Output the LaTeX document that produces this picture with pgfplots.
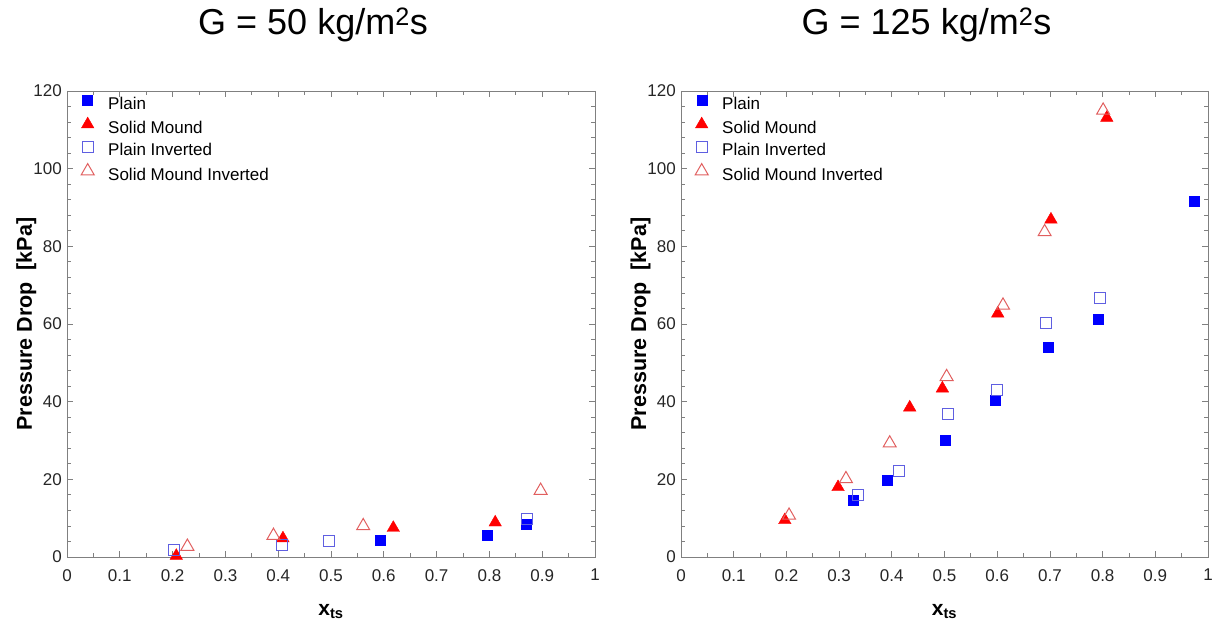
\documentclass[border=0pt]{standalone}
\usepackage{fontspec}
\setmainfont{Liberation Sans}
\usepackage{pgfplots}
\pgfplotsset{compat=1.18}
\definecolor{pblue}{RGB}{0,0,255}
\definecolor{pred}{RGB}{255,0,0}
\definecolor{lblue}{RGB}{95,95,225}
\definecolor{lred}{RGB}{225,95,95}
\definecolor{axgray}{RGB}{128,128,128}
\pgfplotsset{pdstyle/.style={
  scale only axis, height=466pt,
  xmin=0, xmax=1, ymin=0, ymax=120,
  xtick={0,0.1,0.2,0.3,0.4,0.5,0.6,0.7,0.8,0.9,1},
  xticklabels={0,0.1,0.2,0.3,0.4,0.5,0.6,0.7,0.8,0.9,1},
  ytick={0,20,40,60,80,100,120},
  yticklabels={0,20,40,60,80,100,120},
  minor x tick num=1, minor y tick num=4,
  tick align=inside, xtick pos=both, ytick pos=both,
  major tick length=6pt, minor tick length=4pt,
  axis line style={axgray, line width=0.8pt},
  every tick/.style={axgray, line width=0.8pt},
  tick label style={font=\fontsize{17}{20}\selectfont, text=black!85},
  xticklabel style={anchor=north, inner sep=0pt, yshift=-12pt},
  yticklabel style={anchor=east, inner sep=0pt, xshift=-5pt},
  title style={at={(0.5,1)}, anchor=base, yshift=50pt, xshift=-18pt, font=\fontsize{36}{40}\selectfont},
  xlabel={\textbf{x\textsubscript{ts}}},
  xlabel style={at={(0.5,0)}, anchor=base, yshift=-58pt, font=\fontsize{21}{24}\selectfont},
  ylabel={\textbf{Pressure Drop\ \ [kPa]}},
  ylabel style={at={(axis description cs:-0.0663,0.5)}, anchor=base, font=\fontsize{21.5}{24}\selectfont},
  legend cell align=left,
  legend style={draw=none, fill=none, at={(0,1)}, anchor=north west, xshift=11pt, yshift=-2pt,
    font=\fontsize{17}{20}\selectfont, row sep=2.9pt,
    nodes={text height=12pt, text depth=3pt, inner sep=2pt}},
  legend image code/.code={\draw[#1] plot coordinates {(0pt,4.5pt)}; \path (-6pt,0pt) (18pt,0pt);},
  plainS/.style={only marks, mark=square*, mark size=5pt, draw=pblue, fill=pblue},
  moundS/.style={only marks, mark=triangle*, mark size=7.2pt, draw=pred, fill=pred},
  plainI/.style={only marks, mark=square, mark size=5.5pt, draw=lblue, line width=1pt},
  moundI/.style={only marks, mark=triangle, mark size=7.5pt, draw=lred, line width=1pt},
}}
\begin{document}
\begin{tikzpicture}
\useasboundingbox (0,0) rectangle (1212pt,624pt);
\begin{axis}[pdstyle, at={(67pt,67pt)}, anchor=south west, width=528pt,
  title={G = 50 kg/m\textsuperscript{2}s}]
\addplot[plainS] coordinates {(0.593,4.4) (0.795,5.7) (0.869,8.5)};
\addplot[moundS] coordinates {(0.207,0.3) (0.409,4.8) (0.618,7.5) (0.811,8.9)};
\addplot[plainI] coordinates {(0.203,1.7) (0.407,3.1) (0.496,4.2) (0.871,9.7)};
\addplot[moundI] coordinates {(0.228,2.7) (0.391,5.5) (0.561,8.0) (0.897,17.1)};
\legend{Plain, Solid Mound, Plain Inverted, Solid Mound Inverted}
\end{axis}
\begin{axis}[pdstyle, at={(681pt,67pt)}, anchor=south west, width=527pt,
  title={G = 125 kg/m\textsuperscript{2}s}]
\addplot[plainS] coordinates {(0.327,14.7) (0.391,19.9) (0.502,30.0) (0.596,40.4) (0.696,54.0) (0.791,61.2) (0.973,91.5)};
\addplot[moundS] coordinates {(0.197,9.5) (0.298,18.0) (0.434,38.5) (0.496,43.4) (0.601,62.7) (0.702,86.9) (0.808,113.1)};
\addplot[plainI] coordinates {(0.336,16.0) (0.414,22.2) (0.507,36.8) (0.599,43.0) (0.692,60.2) (0.795,66.6)};
\addplot[moundI] coordinates {(0.205,10.7) (0.313,20.1) (0.396,29.3) (0.504,46.4) (0.611,64.8) (0.690,83.7) (0.801,115.0)};
\legend{Plain, Solid Mound, Plain Inverted, Solid Mound Inverted}
\end{axis}
\end{tikzpicture}
\end{document}
